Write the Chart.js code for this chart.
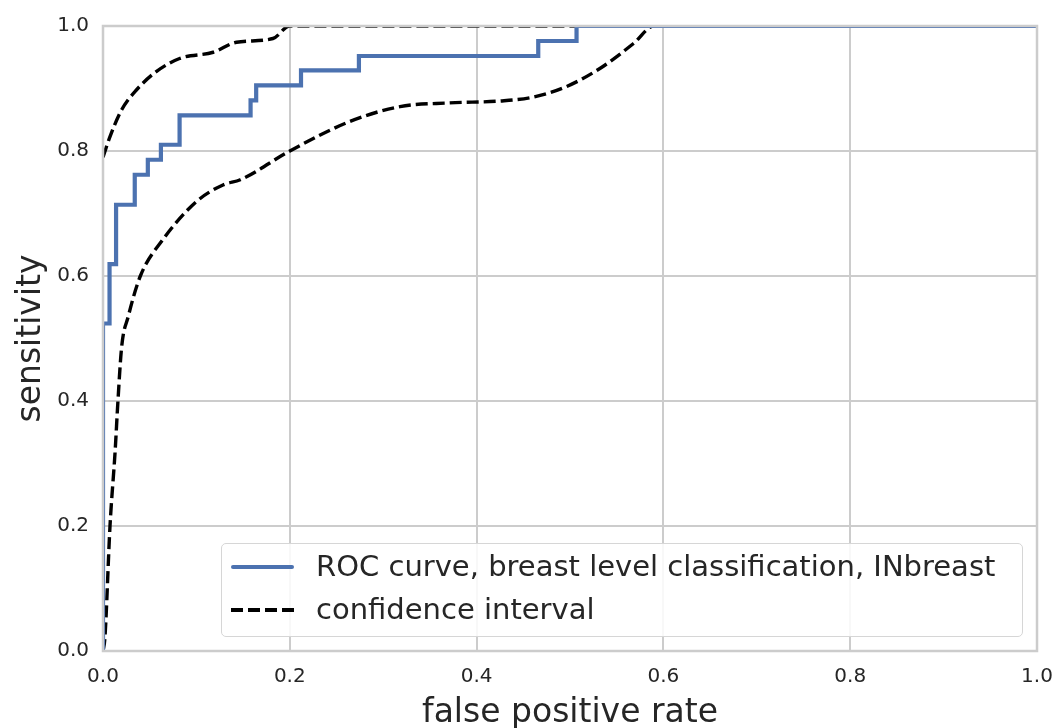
<!DOCTYPE html>
<html>
<head>
<meta charset="utf-8">
<script src="https://cdn.jsdelivr.net/npm/chart.js@4.4.1/dist/chart.umd.min.js"></script>
<style>
  html, body { margin: 0; padding: 0; background: #fff; }
  #wrap { position: relative; width: 1055px; height: 728px; }
  #legend {
    position: absolute; left: 221px; top: 543px; width: 802px; height: 94px;
    box-sizing: border-box; border: 1px solid #d6d6d6; border-radius: 5px;
    background: rgba(255,255,255,0.85);
    font-family: "DejaVu Sans"; font-size: 29px; color: #262626;
  }
  .row { position: absolute; left: 0; height: 43px; line-height: 43px; white-space: nowrap; }
  .sample { position: absolute; left: 9px; top: 20px; width: 63px; height: 0; }
  .label { position: absolute; left: 94px; top: 0; }
</style>
</head>
<body>
<div id="wrap">
  <canvas id="chart" width="1055" height="728"></canvas>
  <div id="legend"></div>
</div>
<script>
// ROC curve (stepped: vertical first, then horizontal)
const rocFpr = [0, 0.007, 0.014, 0.034, 0.048, 0.062, 0.082, 0.158, 0.164, 0.212, 0.274, 0.466, 0.507, 1.0];
const rocTpr = [0, 0.524, 0.619, 0.714, 0.762, 0.786, 0.810, 0.857, 0.881, 0.905, 0.929, 0.952, 0.976, 1.0];

// confidence interval, upper bound
const upFpr = [0, 0.0075, 0.02, 0.036, 0.057, 0.082, 0.118, 0.143, 0.182, 0.2, 1.0];
const upTpr = [0.79, 0.823, 0.866, 0.898, 0.927, 0.948, 0.958, 0.974, 0.98, 1.0, 1.0];

// confidence interval, lower bound
const loFpr = [0, 0.002, 0.0075, 0.013, 0.016, 0.02, 0.027, 0.04, 0.064, 0.1, 0.129, 0.147, 0.2, 0.264, 0.318, 0.371, 0.425, 0.46, 0.496, 0.532, 0.568, 0.59, 1.0];
const loTpr = [0, 0.02, 0.2, 0.32, 0.4, 0.487, 0.535, 0.6, 0.658, 0.719, 0.746, 0.754, 0.80, 0.847, 0.871, 0.877, 0.880, 0.886, 0.903, 0.932, 0.972, 1.0, 1.0];

const tickValues = [0, 0.2, 0.4, 0.6, 0.8, 1.0];
const legendLabels = ["ROC curve, breast level classification, INbreast", "confidence interval"];

const blue = "#4c72b0";
const textColor = "#262626";
const gridColor = "#cccccc";

function toPoints(xs, ys) {
  return xs.map((x, i) => ({ x: x, y: ys[i] }));
}

// draw the frame on top of the lines, like matplotlib spines
const framePlugin = {
  id: "frame",
  afterDatasetsDraw(chart) {
    const a = chart.chartArea;
    const ctx = chart.ctx;
    ctx.save();
    ctx.strokeStyle = gridColor;
    ctx.lineWidth = 2.5;
    ctx.strokeRect(a.left, a.top, a.right - a.left, a.bottom - a.top);
    ctx.restore();
  }
};

const ciStyle = {
  borderColor: "#000",
  borderWidth: 3.4,
  borderDash: [12, 5],
  pointRadius: 0,
  cubicInterpolationMode: "monotone",
  clip: 0
};

new Chart(document.getElementById("chart"), {
  type: "line",
  data: {
    datasets: [
      {
        label: legendLabels[0],
        data: toPoints(rocFpr, rocTpr),
        borderColor: blue,
        borderWidth: 4.2,
        stepped: "after",
        pointRadius: 0,
        clip: 0
      },
      Object.assign({ label: legendLabels[1], data: toPoints(upFpr, upTpr) }, ciStyle),
      Object.assign({ label: legendLabels[1] + " (lower)", data: toPoints(loFpr, loTpr) }, ciStyle)
    ]
  },
  options: {
    responsive: false,
    animation: false,
    layout: { padding: { top: 26, right: 18, left: 0, bottom: 0 } },
    plugins: {
      legend: { display: false },
      tooltip: { enabled: false }
    },
    scales: {
      x: {
        type: "linear",
        min: 0,
        max: 1,
        afterBuildTicks: scale => { scale.ticks = tickValues.map(v => ({ value: v })); },
        afterFit: scale => {
          scale.height = 77;
          scale.paddingLeft = 0;
          scale.paddingRight = 0;
        },
        ticks: {
          callback: v => v.toFixed(1),
          font: { family: "DejaVu Sans", size: 20 },
          color: textColor,
          padding: 14,
          maxRotation: 0
        },
        grid: { color: gridColor, lineWidth: 2, drawTicks: false },
        border: { display: false },
        title: {
          display: true,
          text: "false positive rate",
          font: { family: "DejaVu Sans", size: 33 },
          color: textColor,
          padding: { top: 0, bottom: -5 }
        }
      },
      y: {
        type: "linear",
        min: 0,
        max: 1,
        afterBuildTicks: scale => { scale.ticks = tickValues.map(v => ({ value: v })); },
        afterFit: scale => {
          scale.width = 103;
          scale.paddingTop = 0;
          scale.paddingBottom = 0;
        },
        ticks: {
          callback: v => v.toFixed(1),
          font: { family: "DejaVu Sans", size: 20 },
          color: textColor,
          padding: 14
        },
        grid: { color: gridColor, lineWidth: 2, drawTicks: false },
        border: { display: false },
        title: {
          display: true,
          text: "sensitivity",
          font: { family: "DejaVu Sans", size: 33 },
          color: textColor,
          padding: { top: 12, bottom: 0 }
        }
      }
    }
  },
  plugins: [framePlugin]
});

// legend box inside the plot, lower right
const legend = document.getElementById("legend");
const samples = [
  "border-top: 4px solid " + blue + "; border-radius: 2px;",
  "height: 4px; background: repeating-linear-gradient(to right, #000 0 12px, transparent 12px 17px);"
];
legendLabels.forEach((text, i) => {
  const row = document.createElement("div");
  row.className = "row";
  row.style.top = (1 + i * 43) + "px";
  row.innerHTML = '<div class="sample" style="' + samples[i] + '"></div><span class="label">' + text + "</span>";
  legend.appendChild(row);
});
</script>
</body>
</html>
